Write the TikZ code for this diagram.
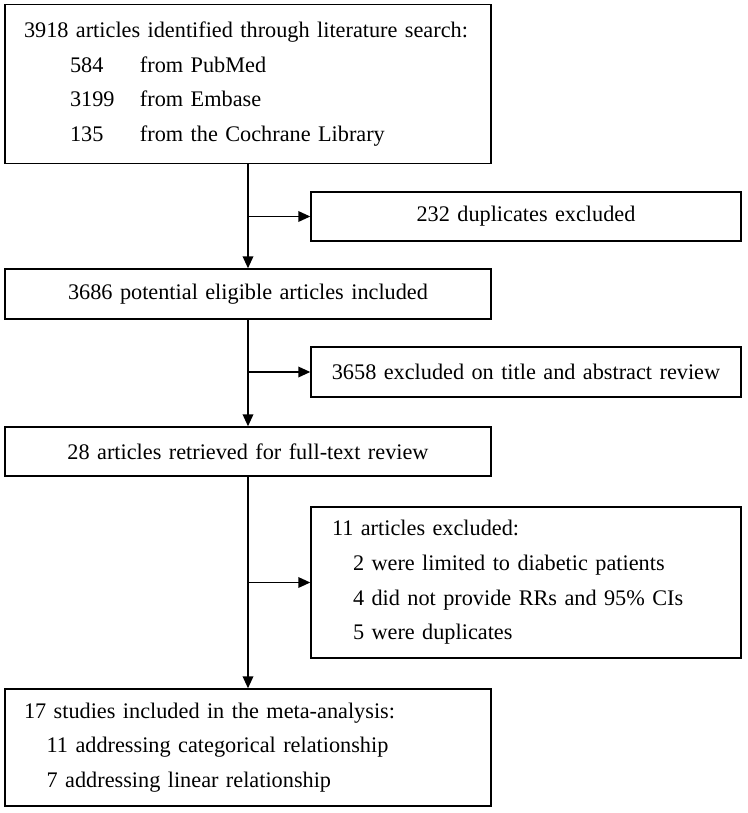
\documentclass[tikz,border=0pt]{standalone}
\usepackage{fontspec}
\setmainfont{Liberation Serif}
\usetikzlibrary{arrows.meta}

\tikzset{
  box/.style={draw, line width=1.1pt, rectangle, inner ysep=0pt,
    font=\fontsize{16.7pt}{26pt}\selectfont},
  leftbox/.style={box, minimum width=364.5pt, text width=336pt, inner xsep=14.25pt},
  rightbox/.style={box, minimum width=322.5pt, text width=291pt, inner xsep=15.75pt},
  midbox/.style={box, align=center, minimum width=322.5pt, text width=312pt, inner xsep=5.25pt},
  flow/.style={line width=1.1pt, -{Triangle[length=9pt,width=8pt]}}
}

\begin{document}
\begin{tikzpicture}[x=0.75pt,y=-0.75pt]
\useasboundingbox (0,0) rectangle (747,813);

% Main column of records
\node[leftbox, align=left, minimum height=119.25pt] (search) at (248,84)
  {3918 articles identified through literature search:\\
   \hspace*{34.5pt}\makebox[52.5pt][l]{584}from PubMed\\
   \hspace*{34.5pt}\makebox[52.5pt][l]{3199}from Embase\\
   \hspace*{34.5pt}\makebox[52.5pt][l]{135}from the Cochrane Library};
\node[leftbox, align=center, minimum height=37.5pt] (eligible) at (248,294)
  {3686 potential eligible articles included};
\node[leftbox, align=center, minimum height=36.75pt] (fulltext) at (248,451.5)
  {28 articles retrieved for full-text review};
\node[leftbox, align=left, minimum height=87.75pt] (included) at (248,747.5)
  {17 studies included in the meta-analysis:\\
   \hspace*{17pt}11 addressing categorical relationship\\
   \hspace*{17pt}7 addressing linear relationship};

% Exclusion boxes on the right
\node[midbox, minimum height=36.75pt] (dupl) at (526,216.5)
  {232 duplicates excluded};
\node[midbox, minimum height=37.5pt] (abstract) at (526,372)
  {3658 excluded on title and abstract review};
\node[rightbox, align=left, minimum height=113.25pt] (excl) at (526,582.5)
  {11 articles excluded:\\
   \hspace*{15.75pt}2 were limited to diabetic patients\\
   \hspace*{15.75pt}4 did not provide RRs and 95\% CIs\\
   \hspace*{15.75pt}5 were duplicates};

% Down arrows
\draw[flow] (search.south) -- (eligible.north);
\draw[flow] (eligible.south) -- (fulltext.north);
\draw[flow] (fulltext.south) -- (included.north);

% Side arrows to the exclusions
\draw[flow] (dupl.west -| search.south) -- (dupl.west);
\draw[flow] (abstract.west -| search.south) -- (abstract.west);
\draw[flow] (excl.west -| search.south) -- (excl.west);

\end{tikzpicture}
\end{document}
